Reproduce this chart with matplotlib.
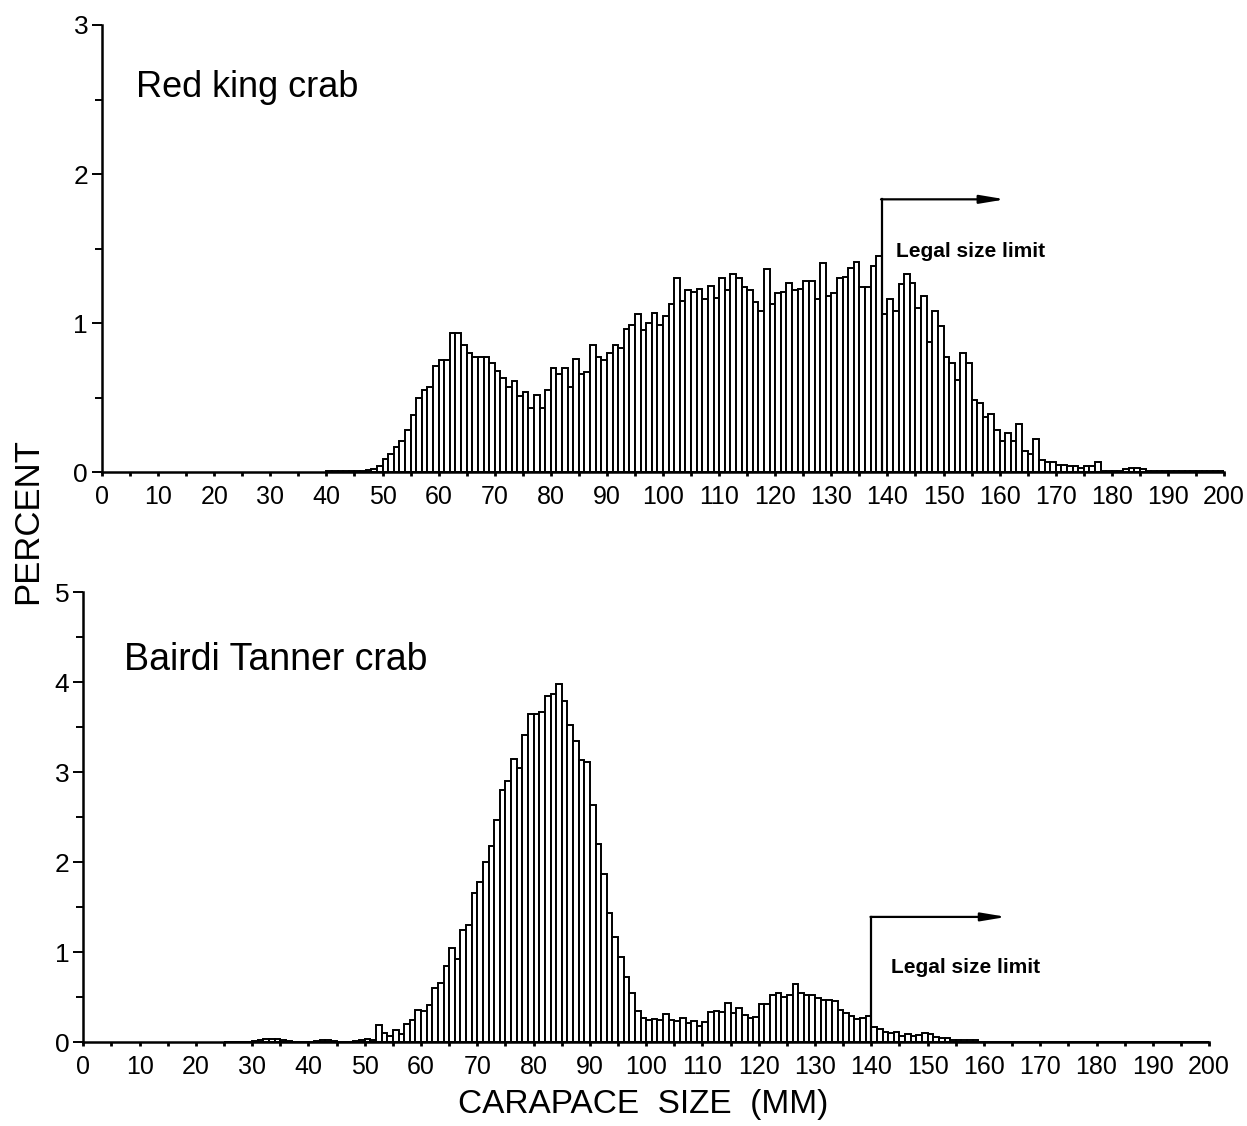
import numpy as np
import matplotlib
matplotlib.use('Agg')
import matplotlib.pyplot as plt

plt.rcParams['font.family'] = ['Liberation Sans', 'DejaVu Sans']

# ---- data: percent per 1-mm carapace size class ----
king_start = 40
king_pct = [
    0.005, 0.005, 0.005, 0.01, 0.01, 0.01, 0.01, 0.015,          # 40-47
    0.02, 0.04, 0.09, 0.12, 0.17, 0.21, 0.28, 0.38, 0.50, 0.55,  # 48-57
    0.57, 0.71, 0.75, 0.75, 0.93, 0.93, 0.85, 0.80, 0.77, 0.77,  # 58-67
    0.77, 0.73, 0.68, 0.63, 0.57, 0.61, 0.51, 0.54, 0.43, 0.52,  # 68-77
    0.43, 0.55, 0.70, 0.66, 0.70, 0.57, 0.76, 0.66, 0.67, 0.85,  # 78-87
    0.77, 0.75, 0.80, 0.85, 0.83, 0.96, 0.99, 1.06, 0.95, 1.00,  # 88-97
    1.07, 0.99, 1.05, 1.13, 1.30, 1.15, 1.22, 1.21, 1.23, 1.16,  # 98-107
    1.25, 1.17, 1.30, 1.22, 1.33, 1.30, 1.24, 1.22, 1.14, 1.08,  # 108-117
    1.36, 1.13, 1.20, 1.21, 1.27, 1.22, 1.23, 1.28, 1.28, 1.16,  # 118-127
    1.40, 1.18, 1.20, 1.30, 1.31, 1.37, 1.41, 1.24, 1.24, 1.38,  # 128-137
    1.45, 1.06, 1.16, 1.08, 1.26, 1.33, 1.27, 1.10, 1.18, 0.87,  # 138-147
    1.08, 0.98, 0.77, 0.73, 0.62, 0.80, 0.73, 0.48, 0.46, 0.37,  # 148-157
    0.39, 0.28, 0.21, 0.26, 0.21, 0.32, 0.14, 0.12, 0.22, 0.08,  # 158-167
    0.07, 0.07, 0.05, 0.05, 0.04, 0.04, 0.03, 0.04, 0.04, 0.07,  # 168-177
    0.01, 0.01, 0.01, 0.01, 0.02, 0.03, 0.03, 0.02, 0.01,        # 178-186
    0.005, 0.005, 0.005, 0.005, 0.005, 0.005, 0.005, 0.005,      # 187-194
    0.005, 0.005, 0.005, 0.005, 0.005,                           # 195-199
]

tanner_start = 25
tanner_pct = [
    0.005, 0.005, 0.005, 0.005, 0.005,                           # 25-29
    0.01, 0.02, 0.03, 0.03, 0.03, 0.02, 0.01, 0.005, 0.005,      # 30-38
    0.005, 0.005, 0.01, 0.02, 0.02, 0.01, 0.005, 0.005, 0.005,   # 39-47
    0.01, 0.02, 0.03, 0.02,                                      # 48-51
    0.19, 0.10, 0.07, 0.13, 0.09, 0.20, 0.24, 0.36, 0.35, 0.41,  # 52-61
    0.60, 0.66, 0.85, 1.05, 0.92, 1.24, 1.30, 1.66, 1.78, 2.00,  # 62-71
    2.18, 2.47, 2.80, 2.90, 3.15, 3.05, 3.41, 3.64, 3.65, 3.67,  # 72-81
    3.85, 3.87, 3.98, 3.79, 3.52, 3.35, 3.13, 3.11, 2.63, 2.20,  # 82-91
    1.87, 1.43, 1.17, 0.95, 0.72, 0.54, 0.35, 0.27, 0.24, 0.26,  # 92-101
    0.25, 0.31, 0.25, 0.23, 0.27, 0.21, 0.23, 0.18, 0.22, 0.33,  # 102-111
    0.35, 0.33, 0.43, 0.32, 0.38, 0.30, 0.27, 0.28, 0.42, 0.42,  # 112-121
    0.52, 0.55, 0.50, 0.52, 0.65, 0.54, 0.52, 0.52, 0.49, 0.47,  # 122-131
    0.47, 0.46, 0.36, 0.32, 0.29, 0.26, 0.27, 0.29, 0.17, 0.14,  # 132-141
    0.11, 0.10, 0.11, 0.07, 0.09, 0.07, 0.08, 0.10, 0.09, 0.06,  # 142-151
    0.05, 0.04, 0.02, 0.02, 0.02, 0.02, 0.02,                    # 152-158
] + [0.005] * 41                                                 # 159-199

king_limit = 139
tanner_limit = 140

panels = [
    dict(pct=king_pct, start=king_start, limit=king_limit, ymax=3,
         rect=[0.0818, 0.5808, 0.8998, 0.397], title='Red king crab',
         tpos=(0.03, 0.86), tsize=26, arrow_y=1.83, arrow_end=161,
         lab=(141.5, 1.48)),
    dict(pct=tanner_pct, start=tanner_start, limit=tanner_limit, ymax=5,
         rect=[0.0668, 0.0746, 0.9028, 0.3996], title='Bairdi Tanner crab',
         tpos=(0.036, 0.85), tsize=27, arrow_y=1.39, arrow_end=164,
         lab=(143.5, 0.83)),
]

fig = plt.figure(figsize=(12.47, 11.26), dpi=100)

for p in panels:
    ax = fig.add_axes(p['rect'])
    sizes = np.arange(p['start'], p['start'] + len(p['pct']))
    ax.bar(sizes + 0.5, p['pct'], width=1.0, color='white',
           edgecolor='black', linewidth=1.4, zorder=2)

    ax.set_xlim(0, 200)
    ax.set_ylim(0, p['ymax'])
    for s in ['top', 'right']:
        ax.spines[s].set_visible(False)
    for s in ['left', 'bottom']:
        ax.spines[s].set_linewidth(1.8)
        ax.spines[s].set_zorder(3)

    ax.set_yticks(np.arange(0, p['ymax'] + 1))
    ax.set_yticks(np.arange(0.5, p['ymax'], 1.0), minor=True)
    ax.set_xticks(np.arange(0, 201, 10))
    ax.set_xticks(np.arange(5, 200, 10), minor=True)
    ax.tick_params(axis='y', which='major', length=7, width=1.4, labelsize=19, pad=3)
    ax.tick_params(axis='y', which='minor', length=5, width=1.4)
    ax.tick_params(axis='x', which='both', length=3, width=2, labelsize=18, pad=6)

    # legal size limit marker
    lim = p['limit']
    ax.plot([lim, lim], [0, p['arrow_y']], color='black', lw=1.6, zorder=4)
    ax.annotate('', xy=(p['arrow_end'], p['arrow_y']), xytext=(lim - 0.15, p['arrow_y']),
                arrowprops=dict(arrowstyle='-|>,head_length=1.5,head_width=0.25',
                                color='black', lw=1.6, shrinkA=0, shrinkB=0))
    ax.text(p['lab'][0], p['lab'][1], 'Legal size limit', fontsize=15,
            fontweight='bold', ha='left', va='center')

    ax.text(p['tpos'][0], p['tpos'][1], p['title'], transform=ax.transAxes,
            fontsize=p['tsize'], ha='left', va='center')

fig.text(0.022, 0.537, 'PERCENT', rotation=90, fontsize=25,
         ha='center', va='center')
fig.text(0.516, 0.019, 'CARAPACE  SIZE  (MM)', fontsize=24,
         ha='center', va='center')

fig.savefig('out.png', dpi=100)
